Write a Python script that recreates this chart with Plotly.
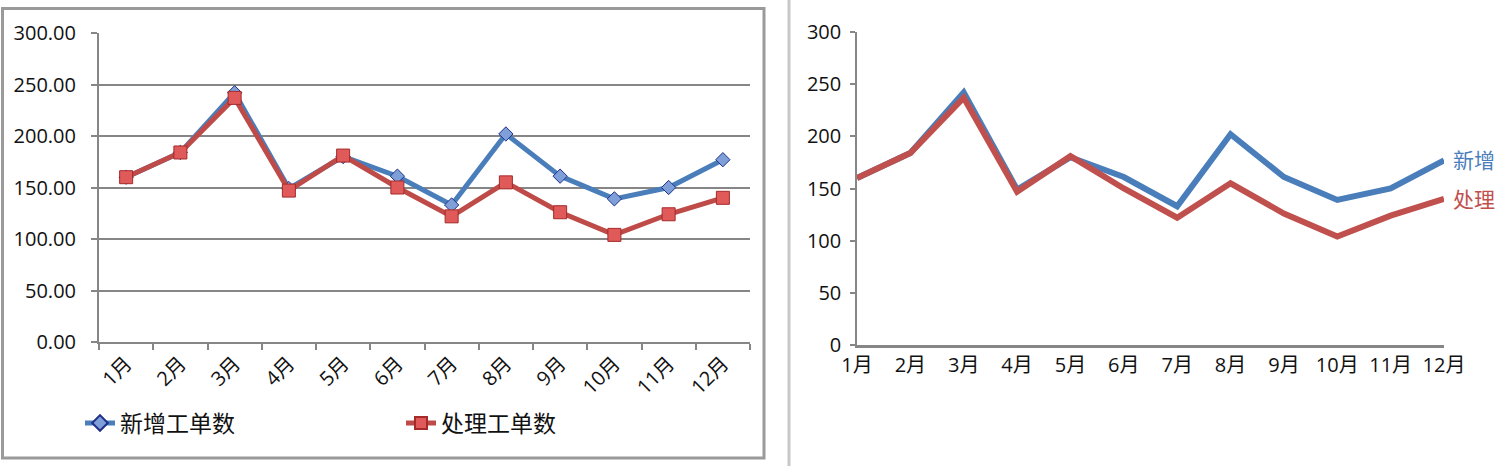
import plotly.graph_objects as go

months = ["1月", "2月", "3月", "4月", "5月", "6月", "7月", "8月", "9月", "10月", "11月", "12月"]
new_orders = [160, 184, 242, 149, 180, 161, 133, 202, 161, 139, 150, 177]
handled_orders = [160, 184, 237, 147, 181, 150, 122, 155, 126, 104, 124, 140]
legend_names = ["新增工单数", "处理工单数"]
end_labels = ["新增", "处理"]
y_ticks = [0, 50, 100, 150, 200, 250, 300]

W, H = 1500, 466
FONT = "Open Sans, Noto Sans CJK SC, sans-serif"
BLUE = "#4a7ebb"
RED = "#be4b48"
GRID = "#868686"

def px_x(v):
    return v / W

def px_y(v):
    return 1 - v / H

fig = go.Figure()

# Left chart (markers + legend)
fig.add_trace(go.Scatter(
    x=months, y=new_orders, name=legend_names[0], mode="lines+markers",
    line=dict(color=BLUE, width=5),
    marker=dict(symbol="diamond", size=11, color="#7e9fd8", line=dict(color="#1f2f8a", width=1)),
    xaxis="x", yaxis="y", showlegend=True,
))
fig.add_trace(go.Scatter(
    x=months, y=handled_orders, name=legend_names[1], mode="lines+markers",
    line=dict(color=RED, width=5),
    marker=dict(symbol="square", size=13, color="#e05a5a", line=dict(color="#a52a2a", width=1)),
    xaxis="x", yaxis="y", showlegend=True,
))

# Right chart (lines + end labels)
fig.add_trace(go.Scatter(
    x=months, y=new_orders, mode="lines", line=dict(color="#4a7ebb", width=6),
    xaxis="x2", yaxis="y2", showlegend=False,
))
fig.add_trace(go.Scatter(
    x=months, y=handled_orders, mode="lines", line=dict(color="#c0504d", width=6),
    xaxis="x2", yaxis="y2", showlegend=False,
))

fig.add_annotation(x=months[-1], y=new_orders[-1], xref="x2", yref="y2", text=end_labels[0],
                   showarrow=False, xanchor="left", xshift=7,
                   font=dict(family=FONT, size=21, color="#4a7ebb"))
fig.add_annotation(x=months[-1], y=handled_orders[-1], xref="x2", yref="y2", text=end_labels[1],
                   showarrow=False, xanchor="left", xshift=7,
                   font=dict(family=FONT, size=21, color="#c0504d"))

tickfont = dict(family=FONT, size=20, color="#111111")

fig.update_layout(
    width=W, height=H,
    margin=dict(l=0, r=0, t=0, b=0, autoexpand=False),
    paper_bgcolor="white", plot_bgcolor="white",
    font=dict(family=FONT),
    xaxis=dict(
        domain=[px_x(99), px_x(750)], anchor="y", automargin=False,
        type="category", categoryorder="array", categoryarray=months,
        range=[-0.5, 11.5], tickson="boundaries", ticks="outside", ticklen=6,
        tickcolor=GRID, tickwidth=2, showline=True, linecolor=GRID, linewidth=2,
        tickangle=-45, tickfont=tickfont, showgrid=False, zeroline=False,
    ),
    yaxis=dict(
        domain=[px_y(342), px_y(33)], anchor="x", automargin=False,
        range=[0, 300], tickvals=y_ticks, tickformat=".2f",
        showgrid=True, gridcolor=GRID, gridwidth=2,
        showline=True, linecolor=GRID, linewidth=2,
        ticks="outside", ticklen=6, tickcolor=GRID, tickwidth=2,
        tickfont=tickfont, zeroline=False, ticklabelstandoff=11,
    ),
    xaxis2=dict(
        domain=[px_x(857), px_x(1444)], anchor="y2", automargin=False,
        type="category", categoryorder="array", categoryarray=months,
        range=[0, 11], ticks="", showline=True, linecolor="#868686", linewidth=3,
        tickangle=0, tickfont=tickfont, showgrid=False, zeroline=False,
    ),
    yaxis2=dict(
        domain=[px_y(345), px_y(32)], anchor="x2", automargin=False,
        range=[0, 300], tickvals=y_ticks,
        showgrid=False, showline=True, linecolor="#868686", linewidth=1.5,
        ticks="outside", ticklen=5, tickcolor="#868686", tickwidth=1.5,
        tickfont=tickfont, zeroline=False, ticklabelstandoff=5,
    ),
    legend=dict(
        orientation="h", x=px_x(80), xanchor="left", y=px_y(423), yanchor="middle",
        entrywidth=276, entrywidthmode="pixels",
        font=dict(family=FONT, size=23, color="#111111"),
        bgcolor="rgba(0,0,0,0)", itemsizing="constant",
    ),
    shapes=[
        dict(type="rect", xref="paper", yref="paper",
             x0=px_x(2.5), x1=px_x(764), y0=px_y(458), y1=px_y(8.5),
             line=dict(color="#9a9a9a", width=3), fillcolor="rgba(0,0,0,0)", layer="below"),
        dict(type="line", xref="paper", yref="paper",
             x0=px_x(789), x1=px_x(789), y0=0, y1=1,
             line=dict(color="#c8c8c8", width=3)),
    ],
)

fig.write_html("out.html")
